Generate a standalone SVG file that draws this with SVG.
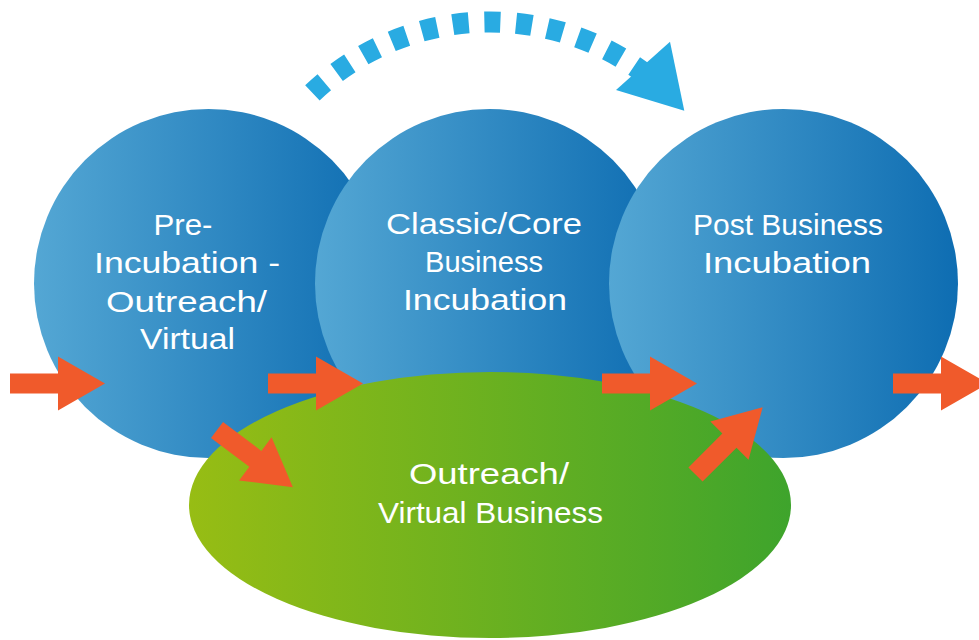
<svg xmlns="http://www.w3.org/2000/svg" width="979" height="640" viewBox="0 0 979 640">
<defs>
<linearGradient id="gBlue" x1="0" y1="0" x2="1" y2="0">
<stop offset="0" stop-color="#54a7d4"/>
<stop offset="1" stop-color="#0e6db2"/>
</linearGradient>
<linearGradient id="gGreen" x1="0" y1="0" x2="1" y2="0">
<stop offset="0" stop-color="#97bd14"/>
<stop offset="1" stop-color="#3ea42c"/>
</linearGradient>
<polygon id="arr" points="0,-10 48,-10 48,-27 95,0 48,27 48,10 0,10"/>
</defs>
<style>
.circle{fill:url(#gBlue)}
.ell{fill:url(#gGreen)}
.lbl{font-family:"Liberation Sans",Arial,sans-serif;font-size:30px;fill:#ffffff;text-anchor:middle}
.orange{fill:#f05a2b}
.dash{fill:none;stroke:#29abe2;stroke-width:21;stroke-dasharray:16 15.7}
.head{fill:#29abe2}
</style>
<rect width="979" height="640" fill="#ffffff"/>
<g id="node-pre">
<circle class="circle" cx="208.5" cy="283.5" r="174.5"/>
<text class="lbl" x="183" y="235" textLength="59" lengthAdjust="spacingAndGlyphs">Pre-</text>
<text class="lbl" x="187" y="273" textLength="186" lengthAdjust="spacingAndGlyphs">Incubation -</text>
<text class="lbl" x="186.5" y="311.5" textLength="161" lengthAdjust="spacingAndGlyphs">Outreach/</text>
<text class="lbl" x="187.5" y="349" textLength="95" lengthAdjust="spacingAndGlyphs">Virtual</text>
</g>
<g id="node-classic">
<circle class="circle" cx="489.5" cy="283.5" r="174.5"/>
<text class="lbl" x="484" y="234" textLength="196" lengthAdjust="spacingAndGlyphs">Classic/Core</text>
<text class="lbl" x="484" y="272" textLength="118" lengthAdjust="spacingAndGlyphs">Business</text>
<text class="lbl" x="485" y="310" textLength="164" lengthAdjust="spacingAndGlyphs">Incubation</text>
</g>
<g id="node-post">
<circle class="circle" cx="783.5" cy="283.5" r="174.5"/>
<text class="lbl" x="788" y="235" textLength="190" lengthAdjust="spacingAndGlyphs">Post Business</text>
<text class="lbl" x="787" y="273" textLength="168" lengthAdjust="spacingAndGlyphs">Incubation</text>
</g>
<g id="node-outreach">
<ellipse class="ell" cx="490" cy="505" rx="301" ry="133"/>
<text class="lbl" x="489" y="484" textLength="160" lengthAdjust="spacingAndGlyphs">Outreach/</text>
<text class="lbl" x="490.5" y="523" textLength="225" lengthAdjust="spacingAndGlyphs">Virtual Business</text>
</g>
<g id="connectors">
<use href="#arr" class="orange" transform="translate(10,383.5)"/>
<use href="#arr" class="orange" transform="translate(268,383.5)"/>
<use href="#arr" class="orange" transform="translate(602,383.5)"/>
<use href="#arr" class="orange" transform="translate(893,383.5)"/>
<use href="#arr" class="orange" transform="translate(217,430) rotate(37)"/>
<use href="#arr" class="orange" transform="translate(695.5,474.5) rotate(-45)"/>
<path class="dash" d="M312.4,92.8 A258,258 0 0 1 647.1,75.3"/>
<polygon class="head" points="670,41.7 684.3,110.7 616,90"/>
</g>
</svg>
